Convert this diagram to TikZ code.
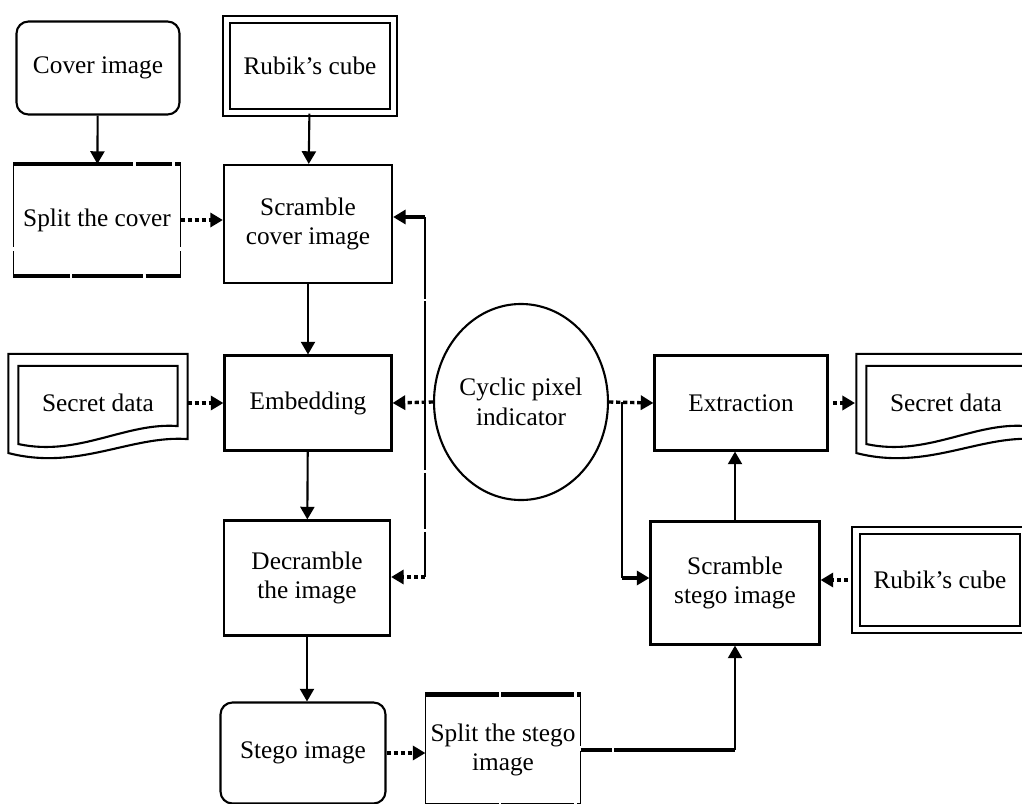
\documentclass[tikz,border=0pt]{standalone}
\usepackage{fontspec}
\setmainfont{Liberation Serif}
\usetikzlibrary{arrows.meta,shapes.geometric,calc}

\begin{document}
\begin{tikzpicture}[x=0.025cm,y=-0.025cm,line width=1.5pt,font=\fontsize{18}{21}\selectfont]
	% `block' is a plain step, `rounded' an input/output image,
	% `cube' the double framed key box, `paper' the secret data sheet.
	\tikzstyle{block} = [draw,rectangle,align=center,inner sep=2pt]
	\tikzstyle{rounded} = [draw,rectangle,rounded corners=3mm,align=center]
	\tikzstyle{cube} = [draw,double,double distance=4pt,rectangle,align=center]
	\tikzstyle{paper} = [rectangle,align=center,minimum width=4.425cm,minimum height=2.4cm]
	\tikzstyle{splitbox} = [rectangle,align=center,inner sep=2pt]
	\tikzstyle{flow} = [-{Triangle[length=9pt,width=10pt]}]
	\tikzstyle{dflow} = [-{Triangle[length=9pt,width=10pt]},line width=2.4pt,dash pattern=on 3pt off 2pt]
	\tikzstyle{heavy} = [line width=3pt]
	\tikzstyle{thinside} = [line width=1.2pt]
	\useasboundingbox (0,0) rectangle (1022,804);
	%
	% Left column: hiding.
	\node[rounded,minimum width=4.075cm,minimum height=2.325cm] (cover) at (98,68) {Cover image};
	\node[cube,minimum width=4.175cm,minimum height=2.325cm] (rubikL) at (310,66) {Rubik's cube};
	\node[splitbox,minimum width=4.125cm,minimum height=2.75cm] (splitC) at (97,220) {Split the cover};
	\node[block,minimum width=4.2cm,minimum height=2.95cm] (scrC) at (308,224) {Scramble\\cover image};
	\node[paper] (secretL) at (98,403) {\raisebox{-6pt}{Secret data}};
	\node[block,minimum width=4.175cm,minimum height=2.375cm] (embed) at (308,403) {Embedding};
	\node[block,minimum width=4.15cm,minimum height=2.875cm] (decr) at (307,578) {Decramble\\the image};
	\node[rounded,minimum width=4.125cm,minimum height=2.525cm] (stego) at (303,753) {Stego image};
	\node[splitbox,minimum width=3.825cm,minimum height=2.725cm] (splitS) at (503,750) {Split the stego\\image};
	%
	% Middle and right column: extraction.
	\node[draw,ellipse,inner sep=0pt,minimum width=3.65cm,minimum height=4.9cm,align=center] (cyclic) at (521,402) {Cyclic pixel\\indicator};
	\node[block,minimum width=4.325cm,minimum height=2.375cm] (extr) at (741,403) {Extraction};
	\node[paper] (secretR) at (946,403) {\raisebox{-6pt}{Secret data}};
	\node[block,minimum width=4.225cm,minimum height=3.075cm] (scrS) at (735,583) {Scramble\\stego image};
	\node[cube,minimum width=4.2cm,minimum height=2.475cm] (rubikR) at (940,580) {Rubik's cube};
	%
	% Split boxes: heavy broken top and bottom, thin sides.
	\draw[heavy,dash pattern=on 85pt off 2pt on 26pt off 2pt] (splitC.north west) -- (splitC.north east);
	\draw[heavy,dash pattern=on 40pt off 2pt on 50pt off 2pt] (splitC.south west) -- (splitC.south east);
	\draw[thinside,dash pattern=on 59pt off 3pt] (splitC.north west) -- (splitC.south west);
	\draw[thinside,dash pattern=on 59pt off 3pt] (splitC.north east) -- (splitC.south east);
	\draw[heavy,dash pattern=on 52pt off 2pt] (splitS.north west) -- (splitS.north east);
	\draw[heavy,dash pattern=on 52pt off 2pt] (splitS.south west) -- (splitS.south east);
	\draw[thinside] (splitS.north west) -- (splitS.south west);
	\draw[thinside,dash pattern=on 37pt off 3pt] (splitS.north east) -- (splitS.south east);
	%
	% Secret data sheets (outer and inner outline with a wavy foot).
	\foreach \sheet in {secretL,secretR} {
		\draw (\sheet.north west) -- (\sheet.north east) -- ([shift={(0,-13)}]\sheet.south east)
			.. controls ([shift={(-57,-17)}]\sheet.south east) and ([shift={(70,19)}]\sheet.south west) .. ([shift={(0,1)}]\sheet.south west) -- cycle;
		\draw ([shift={(10,12)}]\sheet.north west) -- ([shift={(-10,12)}]\sheet.north east) -- ([shift={(-10,-26)}]\sheet.south east)
			.. controls ([shift={(-62,-30)}]\sheet.south east) and ([shift={(70,5)}]\sheet.south west) .. ([shift={(10,-8)}]\sheet.south west) -- cycle;
	}
	%
	% Connectors.
	\draw[flow] (cover) -- (splitC);
	\draw[flow] (rubikL) -- (scrC);
	\draw[dflow] (splitC.east) -- (splitC.east -| scrC.west);
	\draw[flow] (scrC) -- (embed);
	\draw[dflow] (secretL.east) -- (embed.west);
	\draw[flow] (embed) -- (decr);
	\draw[flow] (decr.south) -- (decr.south |- stego.north);
	\draw[dflow] (stego.east) -- (stego.east -| splitS.west);
	\coordinate (turn) at (scrS.south |- splitS.east);
	\draw[heavy,dash pattern=on 22pt off 2pt on 200pt] (splitS.east) -- (turn);
	\draw[flow] (turn) -- (scrS.south);
	% Cyclic pixel indicator feeds both sides.
	\coordinate (busT) at (425,217);
	\coordinate (busB) at (425,577);
	\draw[line width=1.2pt,dash pattern=on 58pt off 2pt on 120pt off 2pt on 40pt off 2pt] (busT) -- (busB);
	\draw[flow,line width=2.4pt] (busT) -- (busT -| scrC.east);
	\draw[dflow] (busB) -- (busB -| decr.east);
	\draw[dflow] (cyclic.west) -- (embed.east);
	\coordinate (busR) at (622,578);
	\draw[dflow] (cyclic.east) -- (extr.west);
	\draw[line width=1.2pt] (busR |- cyclic.east) -- (busR);
	\draw[flow,line width=2.4pt] (busR) -- (busR -| scrS.west);
	\draw[flow] (scrS.north) -- (scrS.north |- extr.south);
	\draw[dflow,shorten <=3pt] (extr.east) -- ([xshift=-1pt]secretR.west);
	\draw[dflow,shorten <=3pt] ([xshift=-2pt]rubikR.west) -- (rubikR.west -| scrS.east);
\end{tikzpicture}
\end{document}
